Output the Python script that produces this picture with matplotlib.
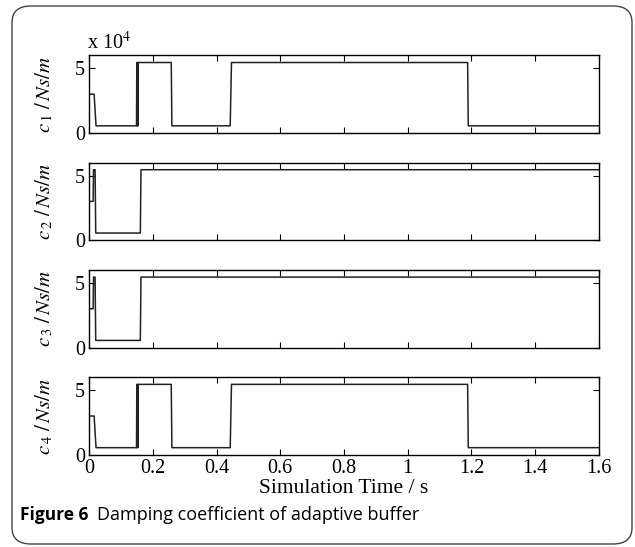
import numpy as np
import matplotlib
matplotlib.use("Agg")
import matplotlib.pyplot as plt
from matplotlib.patches import FancyBboxPatch

plt.rcParams['font.family'] = ['Liberation Serif', 'DejaVu Serif']
plt.rcParams['mathtext.fontset'] = 'stix'

# damping coefficients in units of 1e4 Ns/m
t_outer = [0, 0.016, 0.022, 0.149, 0.150, 0.151, 0.152, 0.153, 0.154, 0.155,
           0.258, 0.260, 0.443, 0.447, 1.188, 1.190, 1.6]
c_outer = [3.0, 3.0, 0.55, 0.55, 5.45, 0.55, 5.45, 0.55, 5.45, 5.45,
           5.45, 0.55, 0.55, 5.45, 5.45, 0.55, 0.55]

t_inner = [0, 0.013, 0.014, 0.019, 0.021, 0.161, 0.163, 1.6]
c_inner = [3.0, 3.0, 5.45, 5.45, 0.55, 0.55, 5.45, 5.45]

series = [(t_outer, c_outer), (t_inner, c_inner), (t_inner, c_inner), (t_outer, c_outer)]
labels = [r'$c_{\,1}\ /\,Ns/m$', r'$c_{\,2}\ /\,Ns/m$', r'$c_{\,3}\ /\,Ns/m$', r'$c_{\,4}\ /\,Ns/m$']
xticks = [0, 0.2, 0.4, 0.6, 0.8, 1.0, 1.2, 1.4, 1.6]
xticklabels = ['0', '0.2', '0.4', '0.6', '0.8', '1', '1.2', '1.4', '1.6']

fig = plt.figure(figsize=(6.35, 5.47), dpi=100)

# rounded frame around figure + caption
frame = FancyBboxPatch((12 / 635, 3 / 547), 620 / 635, 538 / 547,
                       boxstyle="round,pad=0,rounding_size=0.03",
                       transform=fig.transFigure, fill=False,
                       edgecolor='#444444', linewidth=1.0)
fig.patches.append(frame)

bottoms = [0.757, 0.561, 0.3647, 0.1686]
axes = []
for i, (t, c) in enumerate(series):
    ax = fig.add_axes([0.1402, bottoms[i], 0.803, 0.1417])
    ax.plot(t, c, color='#222222', linewidth=1.1)
    ax.set_xlim(0, 1.6)
    ax.set_ylim(0, 6)
    ax.set_yticks([0, 5])
    ax.set_xticks(xticks)
    ax.tick_params(direction='in', top=True, right=True, length=4, width=0.8,
                   labelsize=14.5, pad=3)
    if i == 3:
        ax.set_xticklabels(xticklabels)
        ax.set_xlabel('Simulation Time / s', fontsize=15.5, labelpad=1)
    else:
        ax.set_xticklabels([])
    ax.set_ylabel(labels[i], fontsize=15)
    ax.yaxis.set_label_coords(-0.066, 0.5)
    for s in ax.spines.values():
        s.set_linewidth(1.0)
    axes.append(ax)

axes[0].text(-0.003, 1.02, r'x 10$^4$', transform=axes[0].transAxes,
             fontsize=14.5, ha='left', va='bottom')

fig.text(20 / 635, 1 - 515 / 547, 'Figure 6', family='Open Sans',
         weight='bold', fontsize=12.5, va='center')
fig.text(97 / 635, 1 - 515 / 547, 'Damping coefficient of adaptive buffer',
         family='Open Sans', fontsize=13, va='center')

fig.savefig('out.png', dpi=100)
